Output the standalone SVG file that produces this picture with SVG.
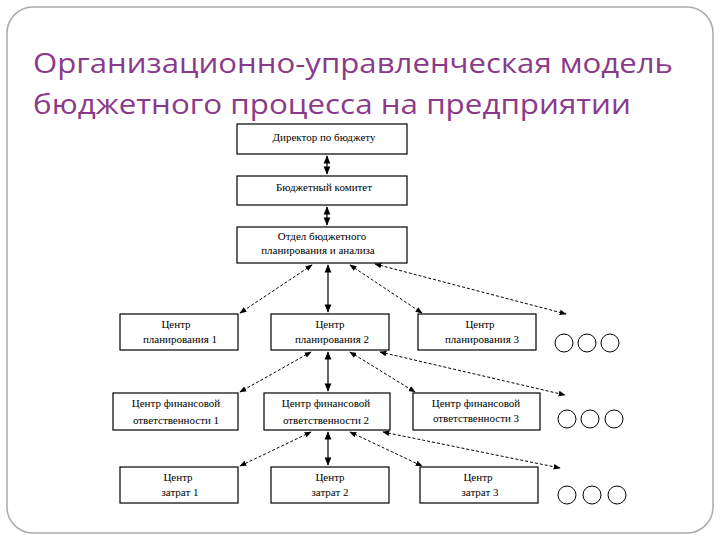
<svg xmlns="http://www.w3.org/2000/svg" width="720" height="540" viewBox="0 0 720 540">
<defs>
<marker id="a" viewBox="0 0 10 10" refX="9" refY="5" markerWidth="7" markerHeight="7" orient="auto-start-reverse"><path d="M0,1 L10,5 L0,9 Z" fill="#000"/></marker>
<style>
.b{fill:#fff;stroke:#000;stroke-width:1.2}
.t{font-family:"Liberation Serif",serif;font-size:11px;text-anchor:middle;fill:#000}
.s{stroke:#000;stroke-width:1.2;fill:none;marker-start:url(#a);marker-end:url(#a)}
.d{stroke:#000;stroke-width:1;stroke-dasharray:3,2;fill:none;marker-start:url(#a);marker-end:url(#a)}
.c{fill:#fff;stroke:#000;stroke-width:1}
.h{font-family:"Open Sans","Liberation Sans",sans-serif;font-size:27px;fill:#8b3a8b}
</style>
</defs>
<rect x="0" y="0" width="720" height="540" fill="#fff"/>
<rect x="7" y="7" width="706" height="526" rx="26" fill="#fff" stroke="#aaa" stroke-width="1.5"/>
<text class="h" x="33" y="73" textLength="640" lengthAdjust="spacingAndGlyphs">Организационно-управленческая модель</text>
<text class="h" x="33" y="114" textLength="598" lengthAdjust="spacingAndGlyphs">бюджетного процесса на предприятии</text>
<g id="n1"><rect class="b" x="237" y="124" width="170" height="30"/><text class="t" x="324" y="141">Директор по бюджету</text></g>
<g id="n2"><rect class="b" x="237" y="176" width="170" height="29"/><text class="t" x="324" y="191">Бюджетный комитет</text></g>
<g id="n3"><rect class="b" x="237" y="227" width="170" height="36"/><text class="t" x="322" y="240">Отдел бюджетного</text><text class="t" x="318" y="254">планирования и анализа</text></g>
<g id="p1"><rect class="b" x="120" y="314" width="118" height="36"/><text class="t" x="176" y="328">Центр</text><text class="t" x="180" y="343">планирования 1</text></g>
<g id="p2"><rect class="b" x="271" y="314" width="118" height="36"/><text class="t" x="330" y="328">Центр</text><text class="t" x="332" y="343">планирования 2</text></g>
<g id="p3"><rect class="b" x="418" y="314" width="118" height="36"/><text class="t" x="480" y="328">Центр</text><text class="t" x="482" y="343">планирования 3</text></g>
<g id="pc"><circle class="c" cx="564" cy="343" r="9"/><circle class="c" cx="587" cy="343" r="9"/><circle class="c" cx="610" cy="343" r="9"/></g>
<g id="f1"><rect class="b" x="113" y="393" width="125" height="37"/><text class="t" x="176" y="407">Центр финансовой</text><text class="t" x="176" y="424">ответственности 1</text></g>
<g id="f2"><rect class="b" x="264" y="393" width="126" height="37"/><text class="t" x="326" y="407">Центр финансовой</text><text class="t" x="326" y="424">ответственности 2</text></g>
<g id="f3"><rect class="b" x="413" y="393" width="127" height="37"/><text class="t" x="476" y="407">Центр финансовой</text><text class="t" x="476" y="422">ответственности 3</text></g>
<g id="fc"><circle class="c" cx="567" cy="419" r="9"/><circle class="c" cx="590" cy="419" r="9"/><circle class="c" cx="614" cy="419" r="9"/></g>
<g id="z1"><rect class="b" x="120" y="467" width="118" height="36"/><text class="t" x="178" y="481">Центр</text><text class="t" x="180" y="496">затрат 1</text></g>
<g id="z2"><rect class="b" x="271" y="467" width="118" height="36"/><text class="t" x="330" y="481">Центр</text><text class="t" x="330" y="496">затрат 2</text></g>
<g id="z3"><rect class="b" x="420" y="467" width="118" height="36"/><text class="t" x="478" y="481">Центр</text><text class="t" x="480" y="496">затрат 3</text></g>
<g id="zc"><circle class="c" cx="567" cy="495" r="9"/><circle class="c" cx="592" cy="495" r="9"/><circle class="c" cx="617" cy="495" r="9"/></g>
<g id="connectors">
<line class="s" x1="327" y1="156" x2="327" y2="174"/>
<line class="s" x1="327" y1="207" x2="327" y2="225"/>
<line class="d" x1="312" y1="265" x2="240" y2="313"/>
<line class="s" x1="328" y1="265" x2="328" y2="312"/>
<line class="d" x1="350" y1="265" x2="422" y2="313"/>
<line class="d" x1="375" y1="264" x2="566" y2="314"/>
<line class="d" x1="311" y1="352" x2="240" y2="392"/>
<line class="s" x1="328" y1="352" x2="328" y2="391"/>
<line class="d" x1="350" y1="352" x2="415" y2="392"/>
<line class="d" x1="380" y1="352" x2="565" y2="395"/>
<line class="d" x1="311" y1="432" x2="240" y2="466"/>
<line class="s" x1="328" y1="432" x2="328" y2="465"/>
<line class="d" x1="350" y1="432" x2="422" y2="466"/>
<line class="d" x1="383" y1="432" x2="560" y2="468"/>
</g>
</svg>
